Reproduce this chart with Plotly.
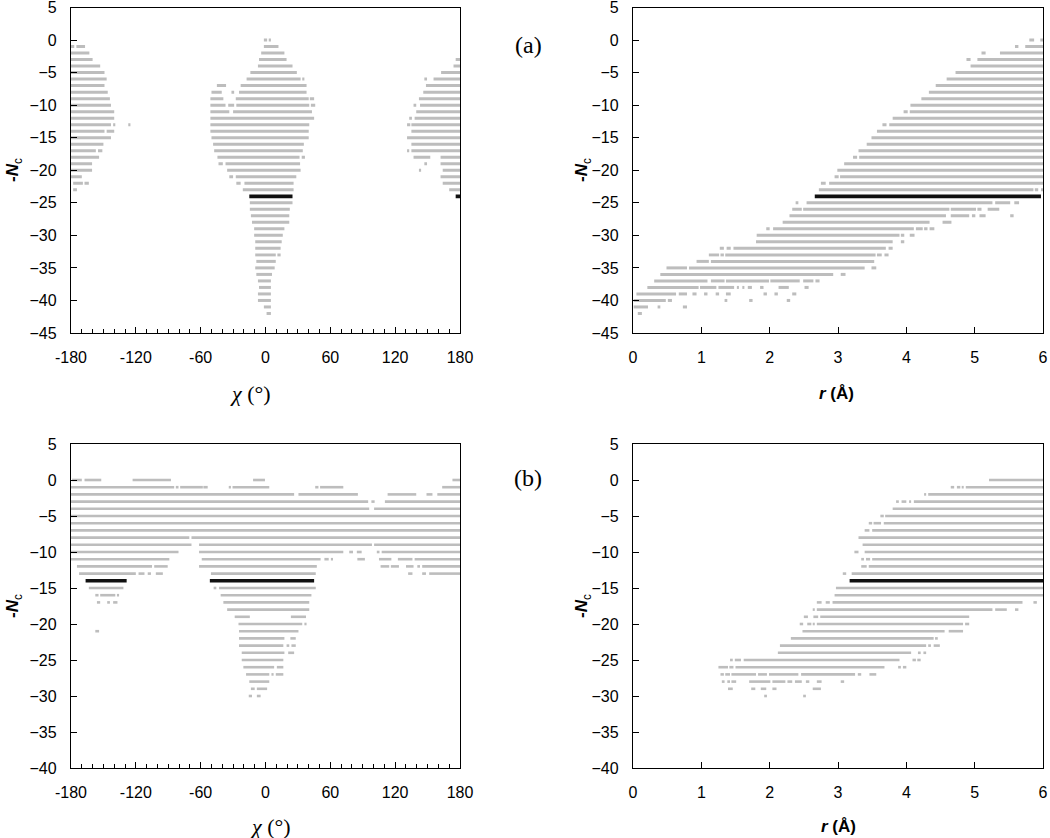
import plotly.graph_objects as go

W, H = 1050, 838

# ---------------- DATA ----------------
# Each entry: Nc -> flat list of segment endpoints [x0, x1, x2, x3, ...]; plotted at level -Nc
# Panel (a) left: chi (deg)
A_CHI_GRAY = {
    0: [-1.5, 1.5, 3, 5],
    1: [-180, -177, -175, -167, -1.5, 12],
    2: [-180, -163, -4, 17.5],
    3: [-180, -160, -6, 19.5, 176, 180],
    4: [-180, -153, -7, 25, 174, 180],
    5: [-180, -149, -14, 29, 162.5, 180],
    6: [-180, -147, -17.5, 32.5, 34, 36, 147, 149.5, 155.5, 180],
    7: [-180, -149, -45, -36.5, -23, 38, 148.5, 180],
    8: [-180, -146, -50, -40.5, -31.5, -29, -24.5, 38, 146, 180],
    9: [-180, -144, -51, -39, -27.5, 40, 41, 45, 142, 180],
    10: [-180, -143, -51, -37, -34.5, -29, -27, 40.5, 42, 46, 137, 139.5, 143, 180],
    11: [-180, -140, -51, -33.5, -30, 43, 139.5, 180],
    12: [-180, -140, -51, 45, 133, 135.5, 138, 180],
    13: [-180, -143, -141, -139, -127, -125, -51, 40.5, 131, 134, 135, 180],
    14: [-180, -149, -147, -140, -51, 40, 135, 180],
    15: [-180, -143, -50, 40, 131, 180],
    16: [-180, -150, -48.5, 35.5, 135, 180],
    17: [-180, -157, -155, -151, -47.5, 34.5, 131, 133, 135, 180],
    18: [-180, -154, -44.5, 31.5, 33.5, 36.5, 137, 152.5, 162, 180],
    19: [-180, -160.5, -43.5, -39.5, -37, 32, 147, 149.5, 162, 180],
    20: [-180, -160.5, -35.5, 32.5, 142, 144, 164, 180],
    21: [-180, -170, -33.5, -30, -27.5, 28.5, 162, 180],
    22: [-178, -169, -167.5, -163.5, -27, -23, -19.5, 26, 164, 180],
    23: [-178, -174.5, -21, 26, 170, 180],
    25: [-14.5, 25],
    26: [-14.5, 22.5],
    27: [-13.5, 22],
    28: [-12.5, 22],
    29: [-10.5, 17.5],
    30: [-10.5, 16],
    31: [-9.5, 15],
    32: [-9.5, 14],
    33: [-9.5, 9.5, 11, 14],
    34: [-8.5, 9.5],
    35: [-9.5, 8.5],
    36: [-8.5, 6],
    37: [-7, 5],
    38: [-6, 5],
    39: [-7, 5],
    40: [-7, 5],
    41: [-1.5, 5],
    42: [1, 5],
}
A_CHI_BLACK = {24: [-15, 25, 176, 180]}

# Panel (a) right: r (Angstrom)
A_R_GRAY = {
    0: [5.8, 5.87, 5.96, 6],
    1: [5.59, 5.64, 5.74, 6],
    2: [5.1, 5.16, 5.37, 6],
    3: [4.88, 4.94, 5.04, 6],
    4: [4.94, 6],
    5: [4.72, 6],
    6: [4.59, 6],
    7: [4.43, 6],
    8: [4.33, 6],
    9: [4.22, 6],
    10: [4.06, 6],
    11: [3.96, 4.02, 4.05, 6],
    12: [3.8, 6],
    13: [3.65, 3.71, 3.75, 6],
    14: [3.57, 6],
    15: [3.49, 6],
    16: [3.42, 6],
    17: [3.3, 6],
    18: [3.22, 3.28, 3.31, 6],
    19: [3.09, 6],
    20: [2.99, 6],
    21: [2.95, 3.01, 3.03, 6],
    22: [2.75, 2.82, 2.87, 6],
    23: [2.72, 5.86, 5.88, 5.93, 5.97, 6],
    25: [2.38, 2.42, 2.54, 5.26, 5.3, 5.52, 5.58, 5.65],
    26: [2.33, 2.47, 2.49, 4.63, 4.65, 5.02, 5.04, 5.1, 5.19, 5.36],
    27: [2.29, 4.58, 4.65, 4.92, 4.96, 5.01, 5.07, 5.16, 5.52, 5.57],
    28: [2.19, 4.34, 4.53, 4.66],
    29: [1.95, 2.0, 2.05, 4.11, 4.14, 4.24, 4.26, 4.31, 4.34, 4.41],
    30: [1.81, 3.9, 3.92, 3.97, 4.05, 4.12],
    31: [1.8, 3.8, 3.92, 3.97],
    32: [1.27, 1.33, 1.37, 1.43, 1.47, 3.7, 3.74, 3.8],
    33: [1.11, 1.26, 1.28, 1.33, 1.35, 3.55, 3.57, 3.64, 3.68, 3.74],
    34: [0.93, 1.11, 1.14, 3.53],
    35: [0.49, 0.79, 0.82, 3.39, 3.49, 3.56],
    36: [0.4, 2.93, 3.04, 3.11],
    37: [0.31, 1.09, 1.14, 1.34, 1.36, 1.99, 2.01, 2.44, 2.49, 2.64, 2.67, 2.73],
    38: [0.21, 0.96, 0.98, 1.22, 1.25, 1.48, 1.52, 1.55, 1.6, 1.63, 1.68, 1.74,
         1.86, 1.91, 2.13, 2.28, 2.51, 2.57],
    39: [0.05, 0.63, 0.67, 0.79, 0.87, 0.93, 1.04, 1.09, 1.21, 1.26, 1.36, 1.43,
         1.91, 1.96, 2.07, 2.12, 2.33, 2.39],
    40: [0.01, 0.48, 0.51, 0.57, 1.34, 1.38, 1.7, 1.75, 2.25, 2.3],
    41: [0.01, 0.22, 0.36, 0.4, 0.73, 0.79],
    42: [0.07, 0.13],
}
A_R_BLACK = {24: [2.66, 5.97]}

# Panel (b) left: chi (deg)
B_CHI_GRAY = {
    0: [-179, -170, -167.5, -152, -123, -87.5, -11.5, -0.5, 173, 180],
    1: [-180, -84.5, -83, -80.5, -79, -58, -57.5, -53.5, -34, -32, -30.5, 3.5,
        46, 49, 50.5, 72, 163.5, 180],
    2: [-180, 26.5, 30.5, 85.5, 113, 139.5, 149, 154.5, 159, 180],
    3: [-180, 95, 98, 101, 110.5, 180],
    4: [-180, 96, 100.5, 180],
    5: [-180, 180],
    6: [-180, 180],
    7: [-180, 180],
    8: [-180, -70.5, -68.5, 180],
    9: [-180, -68.5, -61.5, 98.5, 100.5, 180],
    10: [-180, -80.5, -61.5, 72, 77.5, 81, 84.5, 89, 103, 105.5, 107.5, 180],
    11: [-180, -89, -59, 51, 54.5, 58.5, 60.5, 62.5, 85, 92, 105, 116.5, 122.5, 136, 138, 180],
    12: [-174.5, -105, -103, -90.5, -61.5, 47.5, 106.5, 114.5, 116, 123.5, 130, 137,
         140.5, 143, 145, 180],
    13: [-172.5, -120, -117.5, -112, -109, -106, -101.5, -95, -50.5, 46.5, 132, 136,
         145, 148.5, 151.5, 180],
    15: [-163.5, -131.5, -48, -45.5, -43, 46.5],
    16: [-157.5, -154.5, -153, -139, -137.5, -135.5, -41.5, 42.5],
    17: [-156, -153, -146.5, -144, -141, -137, -39, 40.5],
    18: [-35.5, 40.5],
    19: [-28.5, -14.5, 23.5, 37.5],
    20: [-25, 34, 36, 38],
    21: [-157.5, -154, -24.5, 30.5],
    22: [-24.5, 17.5, 23, 28],
    23: [-24.5, 16.5, 19.5, 22, 24, 28],
    24: [-22, 17.5, 21, 26.5],
    25: [-22, 16.5],
    26: [-20.5, 8, 10.5, 16.5],
    27: [-18, 3.5, 5.5, 7.5, 9.5, 16.5],
    28: [-15, 3.5],
    29: [-13.5, -10, -8, 1.5],
    30: [-15.5, -12.5, -8, -4.5],
}
B_CHI_BLACK = {14: [-166.5, -128.5, -51.5, 45]}

# Panel (b) right: r (Angstrom)
B_R_GRAY = {
    0: [5.21, 6],
    1: [4.65, 4.7, 4.74, 4.79, 4.81, 4.84, 4.87, 6],
    2: [4.26, 4.29, 4.32, 6],
    3: [3.85, 3.89, 3.93, 4.0, 4.04, 4.07, 4.11, 6],
    4: [3.8, 6],
    5: [3.62, 3.67, 3.69, 6],
    6: [3.45, 3.5, 3.52, 3.63, 3.67, 6],
    7: [3.39, 3.46, 3.5, 6],
    8: [3.3, 6],
    9: [3.36, 6],
    10: [3.24, 3.3, 3.39, 6],
    11: [3.34, 3.38, 3.41, 3.47, 3.5, 6],
    12: [3.34, 3.42, 3.45, 6],
    13: [3.07, 3.12, 3.2, 6],
    15: [2.97, 6],
    16: [2.95, 6],
    17: [2.69, 2.76, 2.82, 2.88, 2.92, 5.7, 5.86, 5.91],
    18: [2.63, 2.66, 2.69, 5.26, 5.3, 5.47, 5.59, 5.64],
    19: [2.5, 2.56, 2.64, 2.71, 2.74, 4.92],
    20: [2.44, 2.49, 2.55, 2.61, 2.63, 2.66, 2.69, 4.83, 4.86, 4.92],
    21: [2.48, 4.56, 4.62, 4.83],
    22: [2.31, 4.4, 4.42, 4.46],
    23: [2.15, 4.29, 4.32, 4.36, 4.4, 4.49],
    24: [2.12, 4.07, 4.17, 4.21, 4.25, 4.29],
    25: [1.42, 1.46, 1.49, 1.58, 1.62, 3.9, 4.09, 4.14, 4.16, 4.21],
    26: [1.25, 1.39, 1.41, 1.47, 1.5, 3.68, 3.88, 3.92, 3.95, 4.0],
    27: [1.28, 1.33, 1.35, 1.42, 1.44, 1.8, 1.83, 1.96, 1.99, 2.42, 2.46, 3.25,
         3.29, 3.34, 3.46, 3.56],
    28: [1.3, 1.34, 1.38, 1.42, 1.44, 1.51, 1.7, 2.01, 2.04, 2.23, 2.26, 2.33,
         2.37, 2.47, 2.53, 2.58, 2.69, 2.76, 3.04, 3.09],
    29: [1.39, 1.46, 1.73, 1.79, 1.87, 1.95, 2.04, 2.1, 2.63, 2.75],
    30: [1.92, 1.96, 2.49, 2.53],
}
B_R_BLACK = {14: [3.17, 6]}

CHI_TICKS = [-180, -120, -60, 0, 60, 120, 180]
R_TICKS = [0, 1, 2, 3, 4, 5, 6]

GRAY = "#bdbdbd"
BLACK = "#111111"


def seg_xy(rows):
    xs, ys = [], []
    for nc, pts in rows.items():
        for i in range(0, len(pts), 2):
            xs += [pts[i], pts[i + 1], None]
            ys += [-nc, -nc, None]
    return xs, ys


fig = go.Figure()

panels = [
    (A_CHI_GRAY, A_CHI_BLACK, "x", "y", 3.0),
    (A_R_GRAY, A_R_BLACK, "x2", "y2", 3.0),
    (B_CHI_GRAY, B_CHI_BLACK, "x3", "y3", 2.6),
    (B_R_GRAY, B_R_BLACK, "x4", "y4", 2.6),
]
for gray, black, xa, ya, lw in panels:
    gx, gy = seg_xy(gray)
    fig.add_trace(go.Scatter(x=gx, y=gy, mode="lines", xaxis=xa, yaxis=ya,
                             line=dict(color=GRAY, width=lw), hoverinfo="skip",
                             showlegend=False, cliponaxis=True))
    bx, by = seg_xy(black)
    fig.add_trace(go.Scatter(x=bx, y=by, mode="lines", xaxis=xa, yaxis=ya,
                             line=dict(color=BLACK, width=lw + 0.8), hoverinfo="skip",
                             showlegend=False, cliponaxis=True))


def px(x):
    return x / W


def py(y):
    return 1 - y / H


font_tick = dict(family="Liberation Sans, Arial", size=16, color="black")
common = dict(showline=True, linecolor="black", linewidth=1.3, mirror=True,
              ticks="inside", ticklen=6, tickwidth=1.3, tickcolor="black",
              showgrid=False, zeroline=False, tickfont=font_tick, fixedrange=True,
              automargin=False, ticklabeloverflow="allow")

xdom_l = [px(71), px(460)]
xdom_r = [px(633), px(1043)]
ydom_t = [py(333), py(7.5)]
ydom_b = [py(768), py(444)]

chi_axis = dict(common, range=[-180, 180], tickmode="array", tickvals=CHI_TICKS,
                ticktext=[str(v) for v in CHI_TICKS], ticklabelstandoff=10,
                minor=dict(ticks="inside", dtick=10, tick0=-180, ticklen=4, tickwidth=1,
                           tickcolor="black", showgrid=False))
r_axis = dict(common, range=[0, 6], tickmode="array", tickvals=R_TICKS,
              ticktext=[str(v) for v in R_TICKS], ticklabelstandoff=10)

fig.update_layout(
    template="none",
    width=W, height=H, autosize=False,
    margin=dict(l=0, r=0, t=0, b=0, pad=0),
    paper_bgcolor="white", plot_bgcolor="white",
    xaxis=dict(chi_axis, domain=xdom_l, anchor="y"),
    yaxis=dict(common, domain=ydom_t, range=[-45, 5], dtick=5, tick0=0, anchor="x",
               ticklabelstandoff=10),
    xaxis2=dict(r_axis, domain=xdom_r, anchor="y2"),
    yaxis2=dict(common, domain=ydom_t, range=[-45, 5], dtick=5, tick0=0, anchor="x2",
                ticklabelstandoff=10),
    xaxis3=dict(chi_axis, domain=xdom_l, anchor="y3"),
    yaxis3=dict(common, domain=ydom_b, range=[-40, 5], dtick=5, tick0=0, anchor="x3",
                ticklabelstandoff=10),
    xaxis4=dict(r_axis, domain=xdom_r, anchor="y4"),
    yaxis4=dict(common, domain=ydom_b, range=[-40, 5], dtick=5, tick0=0, anchor="x4",
                ticklabelstandoff=10),
)

ann = []
ytitle = "<b>-<i>N</i></b><sub>c</sub>"
for xx, yy in [(14, 170), (583, 170), (14, 606), (583, 606)]:
    ann.append(dict(x=px(xx), y=py(yy), xref="paper", yref="paper", text=ytitle,
                    textangle=-90, showarrow=False, xanchor="center", yanchor="middle",
                    font=dict(family="Liberation Sans, Arial", size=17, color="black")))
chi_title = "<i>χ</i> (°)"
for xx, yy in [(250, 393), (270, 826)]:
    ann.append(dict(x=px(xx), y=py(yy), xref="paper", yref="paper", text=chi_title,
                    showarrow=False, xanchor="center", yanchor="middle",
                    font=dict(family="Liberation Serif, Times New Roman", size=22,
                              color="black")))
r_title = "<b><i>r</i> (Å)</b>"
for xx, yy in [(836, 393), (838, 826)]:
    ann.append(dict(x=px(xx), y=py(yy), xref="paper", yref="paper", text=r_title,
                    showarrow=False, xanchor="center", yanchor="middle",
                    font=dict(family="Liberation Sans, Arial", size=17, color="black")))
for txt, yy in [("(a)", 45), ("(b)", 478)]:
    ann.append(dict(x=px(528), y=py(yy), xref="paper", yref="paper", text=txt,
                    showarrow=False, xanchor="center", yanchor="middle",
                    font=dict(family="Liberation Serif, Times New Roman", size=24,
                              color="black")))
fig.update_layout(annotations=ann)

# remove the default page margin so the figure sits at the window's top-left corner
fig.write_html("out.html", config={"displayModeBar": False},
               post_script="document.body.style.margin='0';document.body.style.overflow='hidden';")
